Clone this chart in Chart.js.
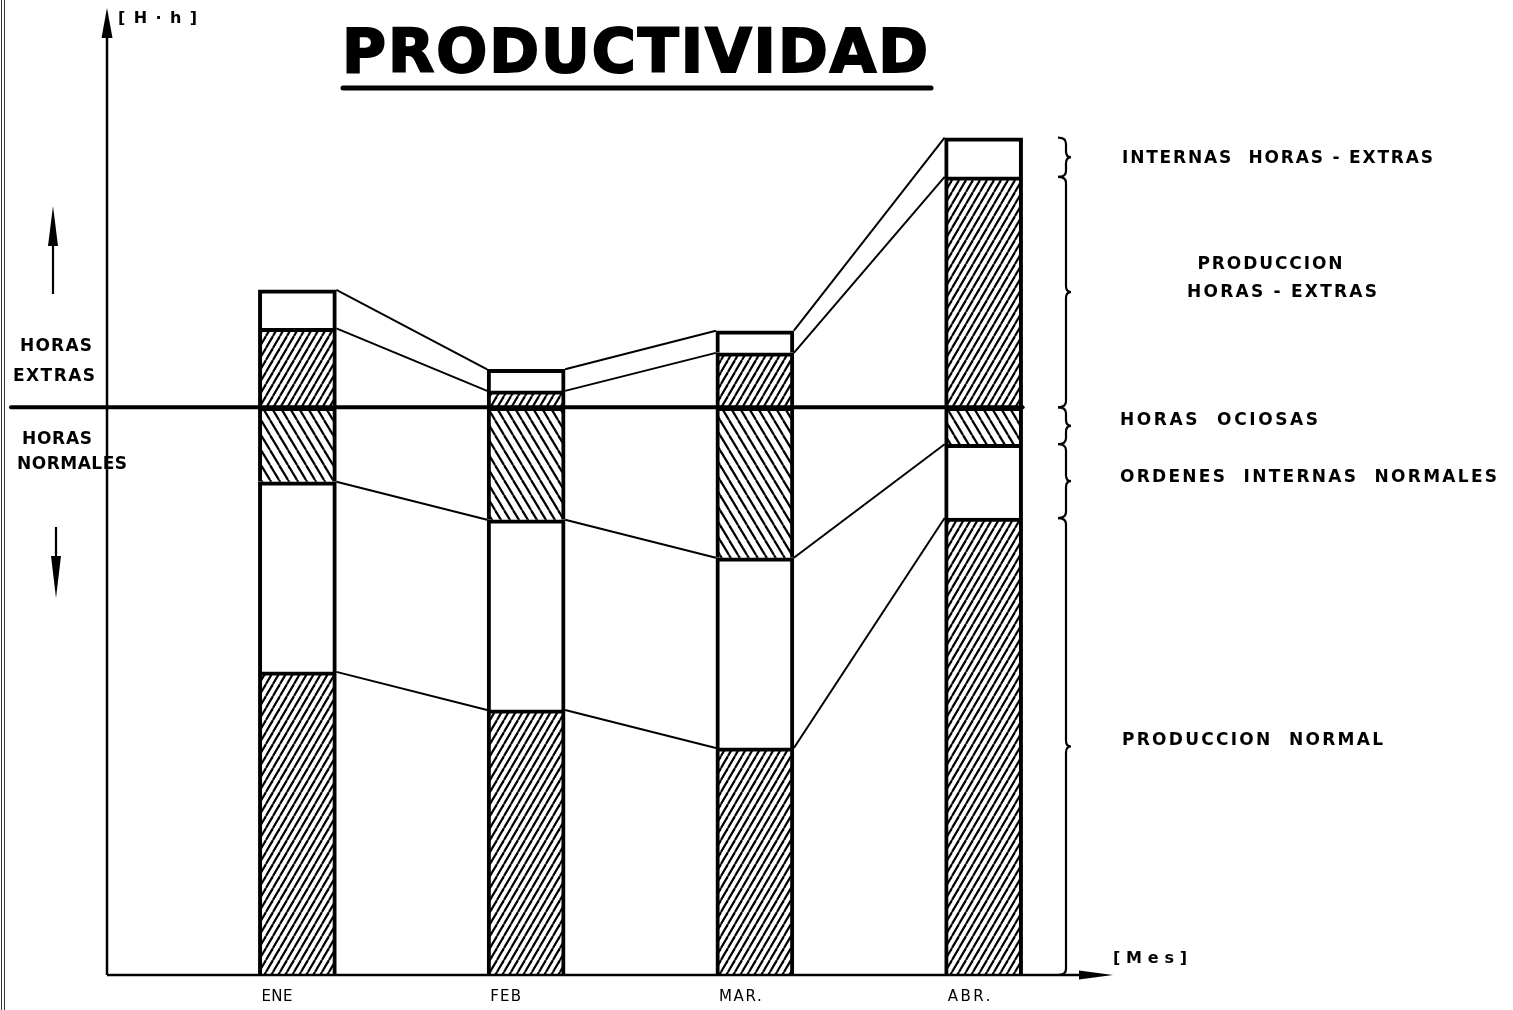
<!DOCTYPE html>
<html>
<head>
<meta charset="utf-8">
<script src="https://cdn.jsdelivr.net/npm/chart.js@4.4.1/dist/chart.umd.min.js"></script>
<style>
  html, body { margin: 0; padding: 0; background: #fff; }
  canvas { display: block; }
</style>
</head>
<body>
<canvas id="prod" width="1513" height="1010"></canvas>
<script>
const MESES = ['ENE', 'FEB', 'MAR.', 'ABR.'];

// horas-hombre por mes, de abajo hacia arriba
const PROD_NORMAL    = [53.4, 46.7, 40.0, 80.5];
const ORD_INT_NORMAL = [33.5, 33.5, 33.5, 13.0];
const HORAS_OCIOSAS  = [13.1, 19.8, 26.5, 6.5];
const PROD_EXTRA     = [13.9, 2.9, 9.6, 40.6];
const INT_EXTRA      = [6.8, 3.8, 3.9, 6.9];

const JORNADA = 100;   // tope de horas normales
const Y_MAX = 170;

const NEGRO = '#000';
const FUENTE = '"DejaVu Sans", sans-serif';

// relleno rayado para las barras
function rayado(paso, alto, invertido) {
  const c = document.createElement('canvas');
  c.width = paso; c.height = alto;
  const g = c.getContext('2d');
  g.fillStyle = '#fff';
  g.fillRect(0, 0, paso, alto);
  g.strokeStyle = NEGRO;
  g.lineWidth = 2.2;
  for (const dx of [-paso, 0, paso]) {
    g.beginPath();
    if (invertido) { g.moveTo(dx, 0); g.lineTo(dx + paso, alto); }
    else { g.moveTo(dx, alto); g.lineTo(dx + paso, 0); }
    g.stroke();
  }
  return g.createPattern(c, 'repeat');
}

const RAYA = rayado(7, 12, false);
const RAYA_INV = rayado(9, 15, true);

// texto con espaciado ajustado a un ancho
function espaciado(ctx, txt, x, y, ancho, centro) {
  ctx.letterSpacing = '0px';
  const m = ctx.measureText(txt).width;
  const ls = (ancho - m) / (txt.length - 1);
  ctx.letterSpacing = ls + 'px';
  ctx.textAlign = 'left';
  ctx.fillText(txt, centro ? x - ancho / 2 : x, y);
  ctx.letterSpacing = '0px';
}

function flecha(ctx, x1, y1, x2, y2, largo, media) {
  const ang = Math.atan2(y2 - y1, x2 - x1);
  ctx.beginPath();
  ctx.moveTo(x1, y1);
  ctx.lineTo(x2 - Math.cos(ang) * largo * 0.8, y2 - Math.sin(ang) * largo * 0.8);
  ctx.stroke();
  const bx = x2 - Math.cos(ang) * largo, by = y2 - Math.sin(ang) * largo;
  ctx.beginPath();
  ctx.moveTo(x2, y2);
  ctx.lineTo(bx - Math.sin(ang) * media, by + Math.cos(ang) * media);
  ctx.lineTo(bx + Math.sin(ang) * media, by - Math.cos(ang) * media);
  ctx.closePath();
  ctx.fill();
}

function llave(ctx, x, y1, y2) {
  const r = 6, xs = x + 8, xc = x + 13, ym = (y1 + y2) / 2;
  ctx.beginPath();
  ctx.moveTo(x, y1);
  ctx.quadraticCurveTo(xs, y1, xs, y1 + r);
  ctx.lineTo(xs, ym - r);
  ctx.quadraticCurveTo(xs, ym, xc, ym);
  ctx.quadraticCurveTo(xs, ym, xs, ym + r);
  ctx.lineTo(xs, y2 - r);
  ctx.quadraticCurveTo(xs, y2, x, y2);
  ctx.stroke();
}

const dibujo = {
  id: 'dibujo',
  afterDatasetsDraw(chart) {
    const { ctx, chartArea, scales } = chart;
    const y = scales.y;
    const metas = [0, 1, 2, 3, 4].map(i => chart.getDatasetMeta(i));
    const ultima = metas[0].data[MESES.length - 1];
    const ejeX = y.getPixelForValue(0);
    const ejeY = chartArea.left - 76;

    ctx.save();
    ctx.strokeStyle = NEGRO;
    ctx.fillStyle = NEGRO;
    ctx.lineCap = 'butt';

    // borde de la hoja
    ctx.lineWidth = 1;
    ctx.strokeStyle = '#333';
    [1.5, 4.5].forEach(x => { ctx.beginPath(); ctx.moveTo(x, 0); ctx.lineTo(x, 1010); ctx.stroke(); });
    ctx.strokeStyle = NEGRO;

    // lineas de union entre barras
    ctx.lineWidth = 2;
    [0, 1, 3, 4].forEach(d => {
      const els = metas[d].data;
      for (let i = 0; i < els.length - 1; i++) {
        const a = els[i], b = els[i + 1];
        ctx.beginPath();
        ctx.moveTo(a.x + a.width / 2, a.y);
        ctx.lineTo(b.x - b.width / 2, b.y);
        ctx.stroke();
      }
    });

    // limite de horas normales
    const yj = y.getPixelForValue(JORNADA);
    ctx.lineWidth = 4;
    ctx.lineCap = 'round';
    ctx.beginPath();
    ctx.moveTo(11, yj);
    ctx.lineTo(ultima.x + ultima.width / 2, yj);
    ctx.stroke();
    ctx.lineCap = 'butt';

    // ejes
    ctx.lineWidth = 2.5;
    flecha(ctx, ejeY, ejeX, ejeY, chartArea.top - 2, 30, 5.5);
    ctx.lineWidth = 2.5;
    flecha(ctx, ejeY, ejeX, 1113, ejeX, 34, 4.5);

    // flechas laterales
    ctx.lineWidth = 2.2;
    flecha(ctx, 53, 294, 53, 206, 40, 5);
    flecha(ctx, 56, 527, 56, 598, 42, 5);

    // llaves de la barra de abril
    ctx.lineWidth = 2.2;
    metas.forEach(m => {
      const el = m.data[MESES.length - 1];
      llave(ctx, 1058, el.y, el.base);
    });

    // textos
    ctx.textBaseline = 'middle';
    ctx.font = 'bold 17px ' + FUENTE;
    espaciado(ctx, 'INTERNAS  HORAS - EXTRAS', 1122, 159, 311);
    espaciado(ctx, 'PRODUCCION', 1270, 265, 145, true);
    espaciado(ctx, 'HORAS - EXTRAS', 1282, 293, 190, true);
    espaciado(ctx, 'HORAS  OCIOSAS', 1120, 421, 198);
    espaciado(ctx, 'ORDENES  INTERNAS  NORMALES', 1120, 478, 377);
    espaciado(ctx, 'PRODUCCION  NORMAL', 1122, 741, 261);

    espaciado(ctx, 'HORAS', 56, 347, 72, true);
    espaciado(ctx, 'EXTRAS', 54, 377, 82, true);
    espaciado(ctx, 'HORAS', 57, 440, 70, true);
    espaciado(ctx, 'NORMALES', 17, 465, 110);

    ctx.font = 'bold 16px ' + FUENTE;
    espaciado(ctx, '[H·h]', 118, 19, 79);
    espaciado(ctx, '[Mes]', 1113, 959, 74);

    // meses
    ctx.font = '15px ' + FUENTE;
    metas[0].data.forEach((el, i) => {
      const w = MESES[i].length > 3 ? 43 : 31;
      espaciado(ctx, MESES[i], el.x - el.width / 2 + 3, 997, w);
    });

    // titulo
    ctx.font = 'bold 60px ' + FUENTE;
    ctx.textBaseline = 'alphabetic';
    ctx.lineWidth = 2;
    ctx.letterSpacing = '0px';
    const m = ctx.measureText('PRODUCTIVIDAD').width;
    ctx.letterSpacing = ((586 - m) / 12) + 'px';
    ctx.textAlign = 'left';
    ctx.fillText('PRODUCTIVIDAD', 342, 72);
    ctx.strokeText('PRODUCTIVIDAD', 342, 72);
    ctx.letterSpacing = '0px';
    ctx.lineWidth = 5;
    ctx.lineCap = 'round';
    ctx.beginPath();
    ctx.moveTo(343, 88);
    ctx.lineTo(931, 88);
    ctx.stroke();

    ctx.restore();
  }
};

const serie = (label, data, fondo) => ({
  label, data,
  backgroundColor: fondo,
  borderColor: NEGRO,
  borderWidth: { top: 4, left: 4, right: 4, bottom: 0 },
  borderSkipped: false,
  barThickness: 78,
  stack: 'horas'
});

new Chart(document.getElementById('prod'), {
  type: 'bar',
  data: {
    labels: MESES,
    datasets: [
      serie('PRODUCCION NORMAL', PROD_NORMAL, RAYA),
      serie('ORDENES INTERNAS NORMALES', ORD_INT_NORMAL, '#fff'),
      serie('HORAS OCIOSAS', HORAS_OCIOSAS, RAYA_INV),
      serie('PRODUCCION HORAS - EXTRAS', PROD_EXTRA, RAYA),
      serie('INTERNAS HORAS - EXTRAS', INT_EXTRA, '#fff')
    ]
  },
  options: {
    responsive: false,
    animation: false,
    events: [],
    layout: { padding: { top: 10, bottom: 35, left: 183, right: 415 } },
    plugins: { legend: { display: false }, tooltip: { enabled: false } },
    scales: {
      x: { stacked: true, display: false },
      y: { stacked: true, display: false, min: 0, max: Y_MAX }
    }
  },
  plugins: [dibujo]
});
</script>
</body>
</html>
